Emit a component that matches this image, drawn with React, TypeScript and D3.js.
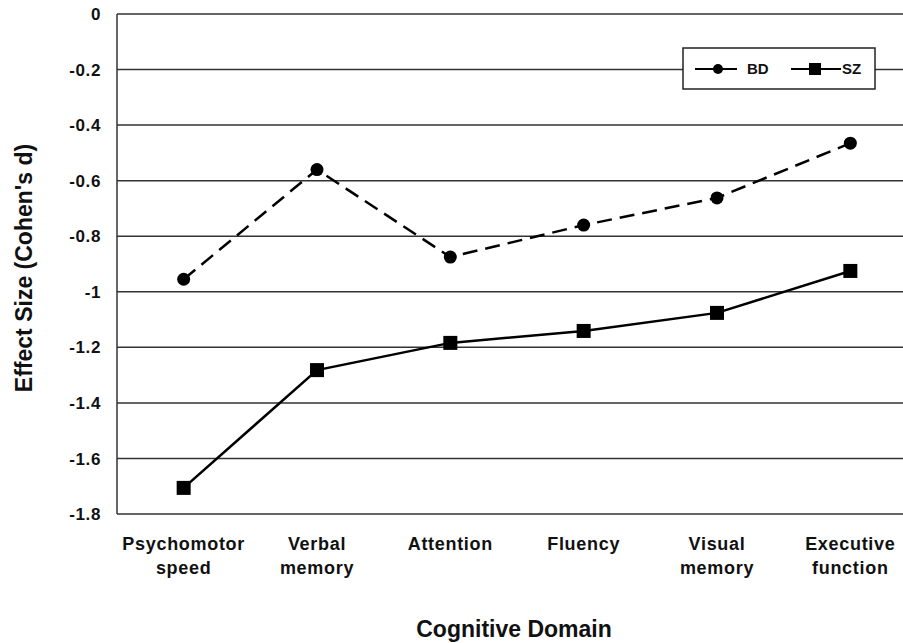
import { useEffect, useRef } from 'react'
import * as d3 from 'd3'

const domains = ['Psychomotor speed', 'Verbal memory', 'Attention', 'Fluency', 'Visual memory', 'Executive function']
const domainLines = [['Psychomotor', 'speed'], ['Verbal', 'memory'], ['Attention'], ['Fluency'], ['Visual', 'memory'], ['Executive', 'function']]
const bdValues = [-0.955, -0.56, -0.875, -0.76, -0.662, -0.465]
const szValues = [-1.706, -1.282, -1.184, -1.141, -1.076, -0.925]
const yTicks = [0, -0.2, -0.4, -0.6, -0.8, -1, -1.2, -1.4, -1.6, -1.8]

const width = 903
const height = 643
const FONT = '"Liberation Sans", Arial, sans-serif'

const App: React.FC = () => {
  const svgRef = useRef<SVGSVGElement>(null)

  useEffect(() => {
    if (!svgRef.current) return
    d3.select(svgRef.current).selectAll('*').remove()

    const margin = { top: 14, left: 117 }
    const innerWidth = 800
    const innerHeight = 500

    const svg = d3.select(svgRef.current)
      .attr('width', width)
      .attr('height', height)
      .style('font-family', FONT)

    const g = svg.append('g').attr('transform', `translate(${margin.left},${margin.top})`)

    const x = d3.scalePoint<string>().domain(domains).range([0, innerWidth]).padding(0.5)
    const y = d3.scaleLinear().domain([-1.8, 0]).range([innerHeight, 0])

    // Gridlines
    g.selectAll('line.grid')
      .data(yTicks)
      .enter()
      .append('line')
      .attr('x1', 0)
      .attr('x2', innerWidth)
      .attr('y1', d => y(d))
      .attr('y2', d => y(d))
      .attr('stroke', '#333')
      .attr('stroke-width', 1.5)

    // Left axis line
    g.append('line')
      .attr('x1', 0).attr('x2', 0)
      .attr('y1', 0).attr('y2', innerHeight)
      .attr('stroke', '#333')
      .attr('stroke-width', 1.5)

    // Y tick labels
    g.selectAll('text.ytick')
      .data(yTicks)
      .enter()
      .append('text')
      .attr('x', -16)
      .attr('y', d => y(d))
      .attr('dy', '0.36em')
      .attr('text-anchor', 'end')
      .attr('font-size', 17)
      .attr('font-weight', 'bold')
      .attr('letter-spacing', 0.6)
      .attr('fill', '#111')
      .text(d => d3.format('')(d).replace('−', '-'))

    // X category labels
    domainLines.forEach((lines, i) => {
      const t = g.append('text')
        .attr('x', x(domains[i]) || 0)
        .attr('y', 536)
        .attr('text-anchor', 'middle')
        .attr('font-size', 18)
        .attr('font-weight', 'bold')
        .attr('letter-spacing', 0.7)
        .attr('fill', '#111')
      lines.forEach((ln, j) => {
        t.append('tspan')
          .attr('x', x(domains[i]) || 0)
          .attr('dy', j === 0 ? 0 : 24)
          .text(ln)
      })
    })

    // Axis titles
    svg.append('text')
      .attr('transform', `translate(32,268) rotate(-90)`)
      .attr('text-anchor', 'middle')
      .attr('font-size', 23)
      .attr('font-weight', 'bold')
      .attr('fill', '#111')
      .text("Effect Size (Cohen's d)")

    svg.append('text')
      .attr('x', 514)
      .attr('y', 637)
      .attr('text-anchor', 'middle')
      .attr('font-size', 23)
      .attr('font-weight', 'bold')
      .attr('fill', '#111')
      .text('Cognitive Domain')

    const line = d3.line<number>()
      .x((_d, i) => x(domains[i]) || 0)
      .y(d => y(d))

    // BD series
    g.append('path')
      .datum(bdValues)
      .attr('d', line)
      .attr('fill', 'none')
      .attr('stroke', '#000')
      .attr('stroke-width', 2.5)
      .attr('stroke-dasharray', '15,8')

    g.selectAll('circle.bd')
      .data(bdValues)
      .enter()
      .append('circle')
      .attr('cx', (_d, i) => x(domains[i]) || 0)
      .attr('cy', d => y(d))
      .attr('r', 6.5)
      .attr('fill', '#000')

    // SZ series
    g.append('path')
      .datum(szValues)
      .attr('d', line)
      .attr('fill', 'none')
      .attr('stroke', '#000')
      .attr('stroke-width', 2.5)

    g.selectAll('rect.sz')
      .data(szValues)
      .enter()
      .append('rect')
      .attr('x', (_d, i) => (x(domains[i]) || 0) - 7)
      .attr('y', d => y(d) - 7)
      .attr('width', 14)
      .attr('height', 14)
      .attr('fill', '#000')

    // Legend
    const legend = svg.append('g').attr('transform', 'translate(683,48)')
    legend.append('rect')
      .attr('width', 192)
      .attr('height', 41)
      .attr('fill', '#fff')
      .attr('stroke', '#222')
      .attr('stroke-width', 1.5)
    const ly = 21
    legend.append('line')
      .attr('x1', 12).attr('x2', 54).attr('y1', ly).attr('y2', ly)
      .attr('stroke', '#000').attr('stroke-width', 2)
    legend.append('circle').attr('cx', 35).attr('cy', ly).attr('r', 5).attr('fill', '#000')
    legend.append('text')
      .attr('x', 64).attr('y', ly).attr('dy', '0.36em')
      .attr('font-size', 15).attr('font-weight', 'bold').attr('fill', '#111')
      .text('BD')
    legend.append('line')
      .attr('x1', 108).attr('x2', 158).attr('y1', ly).attr('y2', ly)
      .attr('stroke', '#000').attr('stroke-width', 2)
    legend.append('rect').attr('x', 126).attr('y', ly - 6).attr('width', 12).attr('height', 12).attr('fill', '#000')
    legend.append('text')
      .attr('x', 159).attr('y', ly).attr('dy', '0.36em')
      .attr('font-size', 15).attr('font-weight', 'bold').attr('fill', '#111')
      .text('SZ')
  }, [])

  return (
    <div style={{ position: 'absolute', left: 0, top: 0, width, height, overflow: 'hidden', background: '#fff' }}>
      <svg ref={svgRef}></svg>
    </div>
  )
}

export default App
